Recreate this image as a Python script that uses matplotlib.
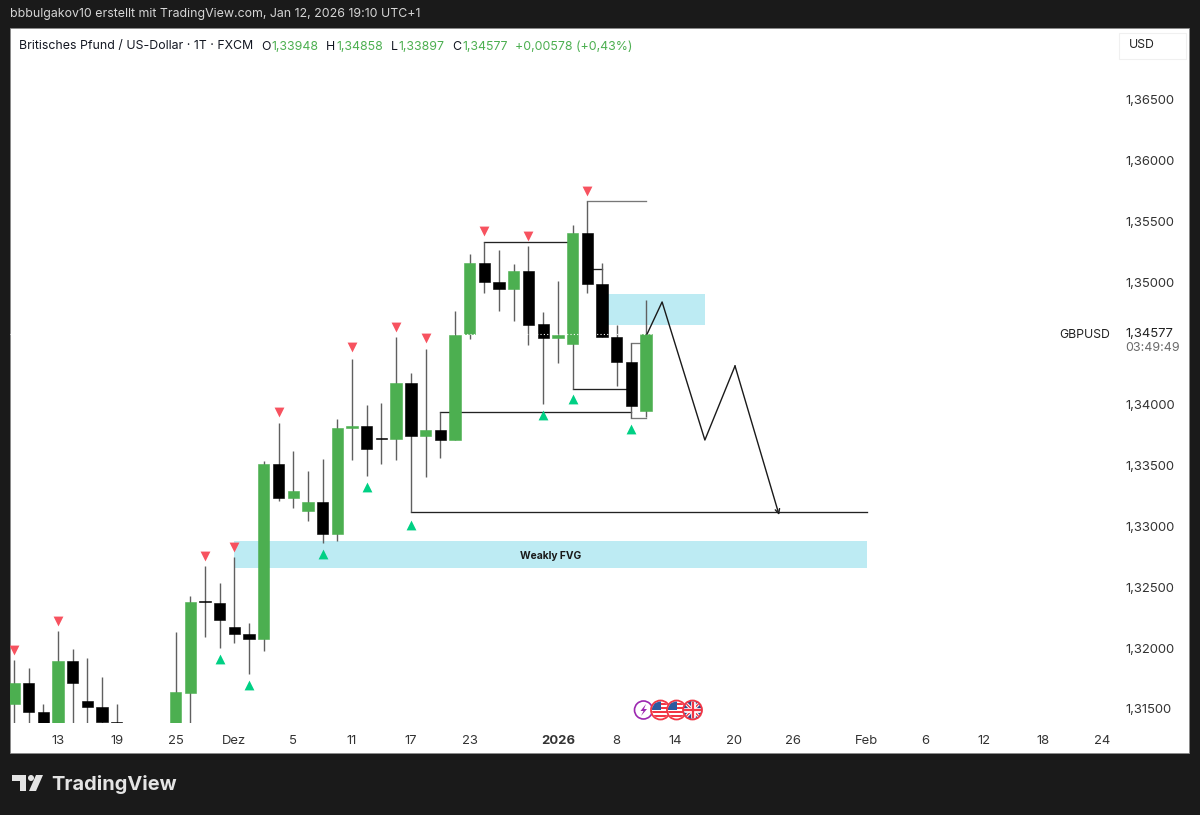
import matplotlib
matplotlib.use("Agg")
import matplotlib.pyplot as plt
from matplotlib.patches import Circle, Polygon, Rectangle

plt.rcParams['font.family'] = ['Inter', 'DejaVu Sans']

# Daily bars, index 0 is the bar labelled 13 (Nov). Bars 5-7 sit below the visible range.
bar_index = [-3, -2, -1, 0, 1, 2, 3, 4, 8, 9, 10, 11, 12, 13, 14, 15, 16, 17, 18, 19, 20, 21,
             22, 23, 24, 25, 26, 27, 28, 29, 30, 31, 32, 33, 34, 35, 36, 37, 38, 39, 40]
opens = [1.31539, 1.31716, 1.31478, 1.3135, 1.31896, 1.31568, 1.31519, 1.31396, 1.3130, 1.31634,
         1.32384, 1.32370, 1.32170, 1.32115, 1.32077, 1.33510, 1.33229, 1.33122, 1.33199, 1.32936,
         1.33803, 1.33825, 1.33724, 1.33713, 1.34178, 1.33740, 1.33789, 1.33707, 1.34575, 1.35160,
         1.35006, 1.34949, 1.35092, 1.34657, 1.34544, 1.34495, 1.35404, 1.34990, 1.34553, 1.34345,
         1.33948]
highs = [1.31902, 1.31836, 1.31541, 1.32143, 1.31995, 1.31919, 1.31763, 1.31541, 1.32132, 1.32430,
         1.32673, 1.32536, 1.32745, 1.32208, 1.33535, 1.33849, 1.33615, 1.33453, 1.33552, 1.33880,
         1.34375, 1.33992, 1.34009, 1.34550, 1.34260, 1.34457, 1.33940, 1.34766, 1.35231, 1.35332,
         1.35264, 1.35152, 1.35299, 1.34755, 1.35010, 1.35474, 1.35669, 1.35160, 1.34649, 1.34506,
         1.34858]
lows = [1.3130, 1.3130, 1.3125, 1.3125, 1.3130, 1.3130, 1.3136, 1.3135, 1.3125, 1.3130,
        1.32091, 1.32003, 1.32044, 1.31787, 1.31976, 1.33209, 1.33152, 1.33045, 1.32865, 1.32876,
        1.33541, 1.33414, 1.33513, 1.33546, 1.33117, 1.33401, 1.33562, 1.33707, 1.34534, 1.34914,
        1.34766, 1.34684, 1.34489, 1.34005, 1.34337, 1.34128, 1.34911, 1.34550, 1.34153, 1.33885,
        1.33897]
closes = [1.31716, 1.31478, 1.3135, 1.31896, 1.31713, 1.31519, 1.31396, 1.31385, 1.31637, 1.32378,
          1.32378, 1.32230, 1.32113, 1.32077, 1.33510, 1.33229, 1.33291, 1.33199, 1.32936, 1.33806,
          1.33825, 1.33631, 1.33718, 1.34178, 1.33743, 1.33789, 1.33707, 1.34572, 1.35160, 1.35004,
          1.34949, 1.35092, 1.34654, 1.34542, 1.34567, 1.35404, 1.34988, 1.34555, 1.34345, 1.33989,
          1.34577]

down_bars = [-3, 0, 10, 12, 15, 20, 23, 25, 29, 32, 36]
down_prices = [1.31984, 1.32222, 1.32756, 1.32829, 1.33937, 1.34471, 1.34635, 1.34544, 1.35422,
               1.35381, 1.35751]
up_bars = [11, 13, 18, 21, 24, 33, 35, 39]
up_prices = [1.31910, 1.31697, 1.32772, 1.33322, 1.33010, 1.33913, 1.34044, 1.33798]

# Horizontal levels: (from bar, to bar, price)
black_levels = [(24, 55, 1.33117), (26, 39, 1.33940), (29, 35, 1.35332), (35, 39, 1.34128),
                (36, 37, 1.35113)]
grey_levels = [(36, 40, 1.35669), (39, 40, 1.34506), (39, 40, 1.33885)]

zigzag_bars = [40.07, 41.09, 44.0, 46.05, 49.05]
zigzag_prices = [1.34577, 1.34840, 1.33707, 1.34315, 1.33092]

price_ticks = [1.315, 1.32, 1.325, 1.33, 1.335, 1.34, 1.345, 1.35, 1.355, 1.36, 1.365]
price_labels = ['1,31500', '1,32000', '1,32500', '1,33000', '1,33500', '1,34000', '',
                '1,35000', '1,35500', '1,36000', '1,36500']
time_ticks = [0, 4, 8, 12, 16, 20, 24, 28, 34, 38, 42, 46, 50, 55, 59, 63, 67, 71]
time_labels = ['13', '19', '25', 'Dez', '5', '11', '17', '23', '2026', '8', '14', '20', '26',
               'Feb', '6', '12', '18', '24']

last_close = 1.34577
GREEN = '#4caf50'
BLUE = '#bdebf3'
W, H = 1200, 815

fig = plt.figure(figsize=(W / 100, H / 100), dpi=100, facecolor='#1a1a1a')

# page chrome in pixel coordinates
bg = fig.add_axes([0, 0, 1, 1], zorder=0)
bg.set_xlim(0, W)
bg.set_ylim(H, 0)
bg.axis('off')
bg.add_patch(Rectangle((10, 28), 1179, 725, fc='white', ec='#8a8a8a', lw=0.6))
bg.text(10, 14.5, 'bbbulgakov10 erstellt mit TradingView.com, Jan 12, 2026 19:10 UTC+1',
        color='#d6d6d6', fontsize=8.9, va='center')
bg.add_patch(Polygon([(12, 775), (26, 775), (26, 791), (20, 791), (20, 781), (12, 781)], fc='#e4e4e4'))
bg.add_patch(Circle((31, 778), 3, fc='#e4e4e4'))
bg.add_patch(Polygon([(36, 775), (43, 775), (36, 791), (29, 791)], fc='#e4e4e4'))
bg.text(51, 784, 'TradingView', color='#e4e4e4', fontsize=14.4, fontweight='bold', va='center')

# main chart
left, right, top, bottom = 10, 1118, 28, 723
ax = fig.add_axes([left / W, 1 - bottom / H, (right - left) / W, (bottom - top) / H], zorder=1)
ax.patch.set_alpha(0)
ax.set_xlim(-3.265, 72.1)
ax.set_ylim(1.31385, 1.37088)
for spine in ax.spines.values():
    spine.set_visible(False)

ax.add_patch(Rectangle((12, 1.32657), 43, 0.00222, fc=BLUE, ec='none', zorder=1))
ax.add_patch(Rectangle((37, 1.34651), 7, 0.00254, fc=BLUE, ec='none', zorder=1))
ax.text(33.5, 1.32755, 'Weakly FVG', fontsize=7.4, fontweight='bold', color='#1a1a1a',
        ha='center', va='center', zorder=6)

# levels go under the candle bodies
for x0, x1, p in black_levels:
    ax.plot([x0, x1], [p, p], color='#222222', lw=0.95, zorder=2)
for x0, x1, p in grey_levels:
    ax.plot([x0, x1], [p, p], color='#777777', lw=0.95, zorder=2)

for i, o, h, l, c in zip(bar_index, opens, highs, lows, closes):
    col = GREEN if c >= o else 'black'
    ax.vlines(i, l, h, color='#606060', lw=1.0, zorder=2)
    ax.bar(i, abs(c - o), bottom=min(o, c), width=0.77, color=col, edgecolor=col, lw=0.4, zorder=3)

# dotted price line only shows up on top of the bodies
ax.axhline(last_close, color='white', lw=0.8, ls=(0, (1, 2)), zorder=4)

ax.plot(zigzag_bars[:-1], zigzag_prices[:-1], color='#1a1a1a', lw=1.0, zorder=5)
ax.annotate('', xy=(zigzag_bars[-1], zigzag_prices[-1]), xytext=(zigzag_bars[-2], zigzag_prices[-2]),
            arrowprops=dict(arrowstyle='->', color='#1a1a1a', lw=1.0, mutation_scale=8,
                            shrinkA=0, shrinkB=0), zorder=5)

ax.scatter(down_bars, down_prices, marker='v', s=50, color='#f7525f', lw=0, zorder=6)
ax.scatter(up_bars, up_prices, marker='^', s=50, color='#00d084', lw=0, zorder=6)

ax.set_xticks(time_ticks)
ax.set_xticklabels(time_labels, fontsize=9.4, color='#333333')
ax.get_xticklabels()[8].set_fontweight('bold')
ax.yaxis.tick_right()
ax.set_yticks(price_ticks)
ax.set_yticklabels(price_labels, fontsize=9.4, color='#333333')
ax.tick_params(axis='both', length=0)
ax.tick_params(axis='x', pad=8.5)
ax.tick_params(axis='y', pad=5)

# overlay: legend line, scale labels, event icons
ov = fig.add_axes([0, 0, 1, 1], zorder=2)
ov.set_xlim(0, W)
ov.set_ylim(H, 0)
ov.axis('off')

ov.text(19, 46.5, 'Britisches Pfund / US-Dollar · 1T · FXCM', color='#131722', fontsize=8.9, va='center')
for x, s, col in [(261, 'O', '#131722'), (271, '1,33948', GREEN), (326, 'H', '#131722'),
                  (336, '1,34858', GREEN), (391, 'L', '#131722'), (398, '1,33897', GREEN),
                  (452, 'C', '#131722'), (462, '1,34577', GREEN),
                  (515, '+0,00578 (+0,43%)', GREEN)]:
    ov.text(x, 46.5, s, color=col, fontsize=8.9, va='center')

ov.add_patch(Rectangle((1119, 33), 67, 26, fc='white', ec='#f0f0f0', lw=0.8))
ov.text(1129, 45.5, 'USD', color='#222222', fontsize=8.8, va='center')
ov.text(1059, 334.5, 'GBPUSD', color='#222222', fontsize=8.8, va='center')
ov.text(1125, 334, '1,34577', color='#222222', fontsize=9.4, va='center')
ov.text(1125, 348, '03:49:49', color='#6a6a6a', fontsize=9, va='center')

cy = 710
ov.add_patch(Circle((643.5, cy), 9, fc='white', ec='#9c27b0', lw=1.2))
ov.add_patch(Polygon([(646, cy - 6), (640.5, cy + 1), (643.5, cy + 1), (641, cy + 6),
                      (647, cy - 1), (644, cy - 1)], fc='#9c27b0'))
for cx in (660.5, 676.5):
    clip = Circle((cx, cy), 8.5, transform=ov.transData)
    ov.add_patch(Circle((cx, cy), 9.5, fc='white', ec='#f23645', lw=1.3))
    for j in range(4):
        stripe = Rectangle((cx - 9, cy - 7 + j * 4), 18, 2, fc='#f23645', ec='none')
        ov.add_patch(stripe)
        stripe.set_clip_path(clip)
    canton = Rectangle((cx - 9, cy - 9), 9, 9, fc='#2c5aa0', ec='none')
    ov.add_patch(canton)
    canton.set_clip_path(clip)
cx = 692.5
clip = Circle((cx, cy), 8.5, transform=ov.transData)
ov.add_patch(Circle((cx, cy), 9.5, fc='#2c4a8c', ec='#f23645', lw=1.3))
for dx0, dy0, dx1, dy1, col, lw in [(-9, -9, 9, 9, 'white', 2.4), (-9, 9, 9, -9, 'white', 2.4),
                                    (-9, -9, 9, 9, '#f23645', 1), (-9, 9, 9, -9, '#f23645', 1),
                                    (0, -9, 0, 9, 'white', 3.4), (-9, 0, 9, 0, 'white', 3.4),
                                    (0, -9, 0, 9, '#f23645', 1.6), (-9, 0, 9, 0, '#f23645', 1.6)]:
    line, = ov.plot([cx + dx0, cx + dx1], [cy + dy0, cy + dy1], color=col, lw=lw)
    line.set_clip_path(clip)

fig.savefig('out.png', dpi=100, facecolor=fig.get_facecolor())
